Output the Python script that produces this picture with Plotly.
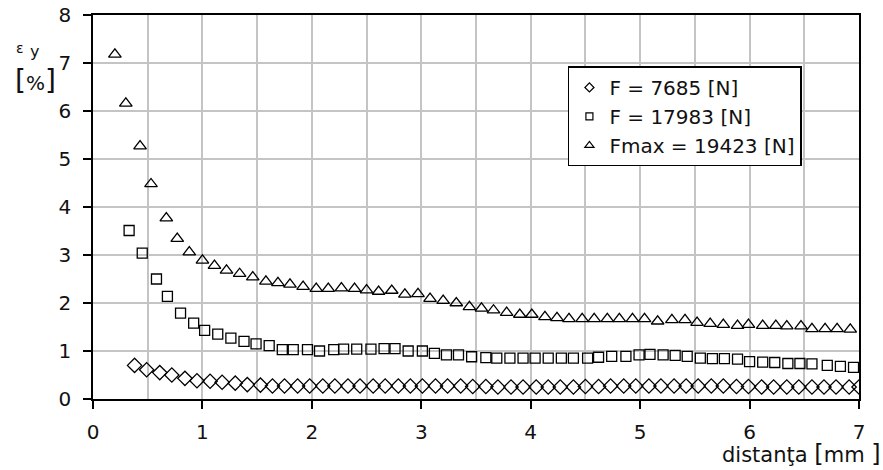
import plotly.graph_objects as go

# ---- data ----
x_f1 = [0.38, 0.49, 0.61, 0.72, 0.84, 0.95, 1.07, 1.18, 1.30, 1.41,
        1.53, 1.64, 1.75, 1.87, 1.98, 2.10, 2.21, 2.33, 2.44, 2.56,
        2.67, 2.79, 2.90, 3.01, 3.13, 3.24, 3.36, 3.47, 3.59, 3.70,
        3.82, 3.93, 4.05, 4.16, 4.27, 4.39, 4.50, 4.62, 4.73, 4.85,
        4.96, 5.08, 5.19, 5.31, 5.42, 5.53, 5.65, 5.76, 5.88, 5.99,
        6.11, 6.22, 6.34, 6.45, 6.57, 6.68, 6.79, 6.91, 7.00]
y_f1 = [0.70, 0.61, 0.55, 0.50, 0.43, 0.38, 0.37, 0.35, 0.33, 0.30,
        0.29, 0.27, 0.27, 0.27, 0.27, 0.27, 0.27, 0.27, 0.27, 0.27,
        0.27, 0.27, 0.27, 0.27, 0.27, 0.27, 0.27, 0.26, 0.26, 0.25,
        0.25, 0.25, 0.25, 0.25, 0.25, 0.25, 0.26, 0.26, 0.27, 0.27,
        0.27, 0.27, 0.27, 0.27, 0.27, 0.27, 0.27, 0.27, 0.26, 0.26,
        0.25, 0.25, 0.25, 0.25, 0.25, 0.25, 0.25, 0.25, 0.25]

x_f2 = [0.33, 0.45, 0.58, 0.68, 0.80, 0.92, 1.02, 1.14, 1.26, 1.38,
        1.49, 1.61, 1.73, 1.83, 1.96, 2.07, 2.20, 2.29, 2.41, 2.54,
        2.66, 2.76, 2.88, 3.01, 3.12, 3.23, 3.34, 3.46, 3.59, 3.69,
        3.81, 3.93, 4.04, 4.16, 4.28, 4.39, 4.52, 4.62, 4.74, 4.87,
        4.99, 5.09, 5.21, 5.32, 5.43, 5.55, 5.66, 5.77, 5.89, 6.00,
        6.12, 6.23, 6.35, 6.46, 6.57, 6.71, 6.83, 6.95]
y_f2 = [3.51, 3.04, 2.50, 2.14, 1.79, 1.58, 1.43, 1.35, 1.27, 1.20,
        1.15, 1.11, 1.03, 1.03, 1.03, 1.00, 1.03, 1.04, 1.04, 1.04,
        1.05, 1.05, 1.00, 1.00, 0.95, 0.92, 0.92, 0.88, 0.86, 0.85,
        0.85, 0.85, 0.85, 0.85, 0.85, 0.85, 0.85, 0.87, 0.89, 0.89,
        0.92, 0.93, 0.92, 0.91, 0.89, 0.85, 0.84, 0.84, 0.83, 0.78,
        0.77, 0.76, 0.74, 0.74, 0.73, 0.70, 0.68, 0.66]

x_fmax = [0.20, 0.30, 0.43, 0.53, 0.67, 0.77, 0.88, 1.00, 1.11, 1.22,
          1.34, 1.46, 1.58, 1.69, 1.80, 1.92, 2.04, 2.15, 2.27, 2.39,
          2.50, 2.61, 2.73, 2.85, 2.97, 3.08, 3.20, 3.32, 3.44, 3.55,
          3.66, 3.78, 3.90, 4.01, 4.13, 4.24, 4.35, 4.47, 4.58, 4.70,
          4.81, 4.93, 5.04, 5.16, 5.29, 5.41, 5.52, 5.64, 5.76, 5.89,
          5.99, 6.12, 6.24, 6.34, 6.47, 6.57, 6.69, 6.80, 6.92]
y_fmax = [7.18, 6.16, 5.27, 4.48, 3.77, 3.34, 3.06, 2.89, 2.78, 2.68,
          2.61, 2.54, 2.45, 2.42, 2.39, 2.34, 2.30, 2.30, 2.31, 2.30,
          2.27, 2.24, 2.26, 2.18, 2.19, 2.09, 2.05, 2.00, 1.92, 1.89,
          1.85, 1.80, 1.76, 1.76, 1.71, 1.69, 1.67, 1.67, 1.67, 1.67,
          1.67, 1.67, 1.67, 1.62, 1.65, 1.65, 1.59, 1.57, 1.55, 1.53,
          1.55, 1.53, 1.53, 1.52, 1.52, 1.46, 1.46, 1.46, 1.45]

series_names = ["F = 7685 [N]", "F = 17983 [N]", "Fmax = 19423 [N]"]
x_ticks = [0, 1, 2, 3, 4, 5, 6, 7]
y_ticks = [0, 1, 2, 3, 4, 5, 6, 7, 8]

FONT = "DejaVu Sans"
TXT = "#111111"
GRID = "#c4c4c4"
series = [
    (x_f1, y_f1, "diamond-open", 11, 7),
    (x_f2, y_f2, "square-open", 10, 7),
    (x_fmax, y_fmax, "triangle-up-open", 11, 8),
]

fig = go.Figure()
for (xs, ys, sym, sz, lsz), name in zip(series, series_names):
    fig.add_trace(go.Scatter(
        x=xs, y=ys, mode="markers", showlegend=False, name=name,
        marker=dict(symbol=sym, size=sz, color="black",
                    line=dict(color="black", width=1.3)),
    ))
for (xs, ys, sym, sz, lsz), name in zip(series, series_names):
    fig.add_trace(go.Scatter(
        x=[None], y=[None], mode="markers", name=name, showlegend=True,
        marker=dict(symbol=sym, size=lsz, color="black",
                    line=dict(color="black", width=1.2)),
    ))

axis_common = dict(
    showline=True, linecolor="black", linewidth=1.5, mirror=True,
    ticks="outside", ticklen=8, tickwidth=1.5, tickcolor="black",
    showgrid=True, gridcolor=GRID, gridwidth=1.5, zeroline=False,
    automargin=False,
    tickfont=dict(family=FONT, size=20, color=TXT),
)

fig.update_xaxes(range=[0, 7], tickvals=x_ticks, ticktext=[str(v) for v in x_ticks],
                 minor=dict(dtick=0.5, showgrid=True, gridcolor=GRID, gridwidth=1.5, ticks=""),
                 ticklabelstandoff=6, **axis_common)
fig.update_yaxes(range=[0, 8], tickvals=y_ticks, ticktext=[str(v) for v in y_ticks],
                 ticklabelstandoff=8, **axis_common)

fig.add_annotation(xref="paper", yref="paper", x=1.03, y=-0.182, xanchor="right", yanchor="bottom",
                   text="distanţa <span style='font-size:24px'>[</span>mm <span style='font-size:24px'>]</span>",
                   showarrow=False, borderpad=0, font=dict(family=FONT, size=21, color=TXT))
fig.add_annotation(xref="paper", yref="paper", x=-0.103, y=0.915, xanchor="left", yanchor="middle",
                   text="ε", showarrow=False,
                   font=dict(family=FONT, size=14, color=TXT))
fig.add_annotation(xref="paper", yref="paper", x=-0.085, y=0.905, xanchor="left", yanchor="middle",
                   text="y", showarrow=False,
                   font=dict(family=FONT, size=16, color=TXT))
fig.add_annotation(xref="paper", yref="paper", x=-0.104, y=0.83, xanchor="left", yanchor="middle",
                   text="<span style='font-size:28px'>[</span>%<span style='font-size:28px'>]</span>",
                   showarrow=False, font=dict(family=FONT, size=20, color=TXT))

fig.update_layout(
    width=883, height=470,
    margin=dict(l=93, r=24, t=15, b=71),
    paper_bgcolor="white", plot_bgcolor="white",
    font=dict(family=FONT, color=TXT),
    legend=dict(x=0.62, y=0.866, xanchor="left", yanchor="top",
                bgcolor="white", bordercolor="black", borderwidth=1.5,
                font=dict(family=FONT, size=20, color=TXT),
                itemwidth=30, tracegroupgap=0),
)

fig.write_html("out.html")
